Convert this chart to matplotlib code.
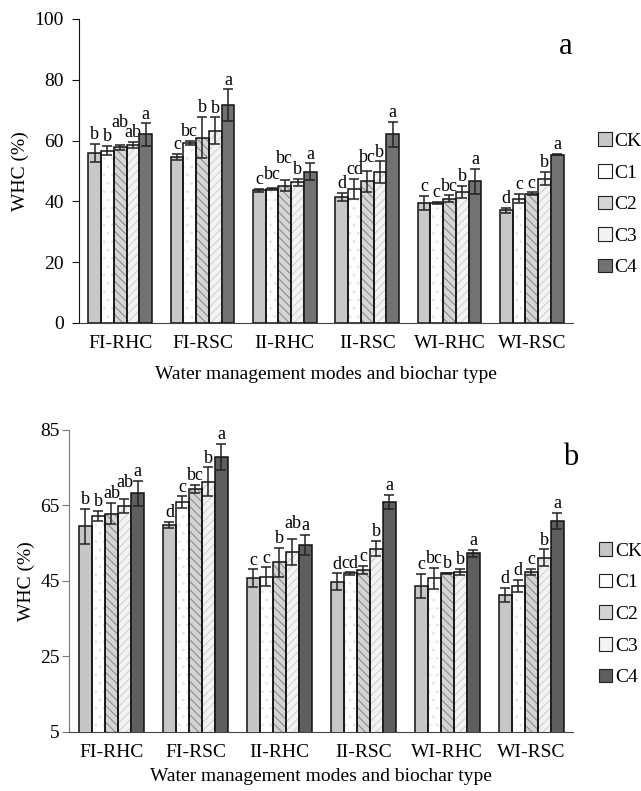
import numpy as np
import matplotlib
matplotlib.use('Agg')
import matplotlib.pyplot as plt
from matplotlib.patches import Patch

plt.rcParams['font.family'] = ['Liberation Serif', 'DejaVu Serif']

groups = ['FI-RHC', 'FI-RSC', 'II-RHC', 'II-RSC', 'WI-RHC', 'WI-RSC']
treatments = ['CK', 'C1', 'C2', 'C3', 'C4']

# panel a
a_mean = [[55.9, 54.6, 43.6, 41.4, 39.5, 37.0],
          [56.7, 59.2, 44.2, 44.2, 39.6, 40.9],
          [57.8, 61.0, 45.2, 46.6, 40.9, 42.5],
          [58.5, 63.3, 46.3, 49.7, 43.1, 47.5],
          [62.0, 71.6, 49.8, 62.0, 46.6, 55.4]]
a_err = [[3.1, 1.1, 0.6, 1.4, 2.4, 0.8],
         [1.5, 0.8, 0.3, 3.3, 0.3, 1.5],
         [0.8, 6.8, 1.8, 3.5, 1.1, 0.5],
         [1.1, 4.4, 1.1, 3.5, 2.1, 2.2],
         [3.7, 5.3, 2.7, 4.2, 4.1, 0.3]]
a_let = [['b', 'c', 'c', 'd', 'c', 'd'],
         ['b', 'bc', 'bc', 'cd', 'c', 'c'],
         ['ab', 'b', 'bc', 'bc', 'bc', 'c'],
         ['ab', 'b', 'b', 'b', 'b', 'b'],
         ['a', 'a', 'a', 'a', 'a', 'a']]

# panel b
b_mean = [[59.5, 59.8, 45.7, 44.8, 43.7, 41.3],
          [62.2, 65.9, 46.1, 47.0, 45.7, 43.7],
          [62.8, 69.4, 49.9, 47.9, 47.0, 47.4],
          [64.8, 71.3, 52.7, 53.6, 47.4, 51.2],
          [68.2, 77.9, 54.5, 66.0, 52.3, 60.9]]
b_err = [[4.6, 0.8, 2.4, 2.2, 3.2, 1.8],
         [1.3, 1.5, 2.5, 0.3, 2.7, 1.6],
         [2.8, 1.0, 3.8, 1.1, 0.2, 0.8],
         [1.9, 3.8, 3.5, 2.0, 0.8, 2.2],
         [3.3, 3.5, 2.7, 1.8, 0.9, 2.2]]
b_let = [['b', 'd', 'c', 'd', 'c', 'd'],
         ['b', 'c', 'c', 'cd', 'bc', 'd'],
         ['ab', 'bc', 'b', 'c', 'b', 'c'],
         ['ab', 'b', 'ab', 'b', 'b', 'b'],
         ['a', 'a', 'a', 'a', 'a', 'a']]

hatches = [None, '..', '\\\\\\\\', '////', None]
hcols = [None, '#e4e4e4', '#8c8c8c', '#d2d2d2', None]
plt.rcParams['hatch.linewidth'] = 0.8

fig = plt.figure(figsize=(6.41, 7.91), dpi=100)
ax1 = fig.add_axes([0.1232, 0.5917, 0.7707, 0.3843])
ax2 = fig.add_axes([0.1084, 0.0746, 0.786, 0.3818])

x = np.arange(len(groups))
w = 0.155


def draw(ax, mean, err, let, ymin, ymax, ticks, tag, tagx, faces, raise_, spcol, ypad, xlpad):
    for i in range(5):
        pos = x + (i - 2) * w
        if hatches[i]:
            ax.bar(pos, mean[i], w, color=faces[i], edgecolor=hcols[i],
                   hatch=hatches[i], linewidth=0, zorder=2)
        ax.bar(pos, mean[i], w, color=faces[i] if not hatches[i] else 'none',
               edgecolor='#111111', linewidth=1.1, zorder=3)
        ax.errorbar(pos, mean[i], yerr=err[i], fmt='none', ecolor='#222222',
                    elinewidth=1.1, capsize=3.8, capthick=1.1, zorder=4)
        for j in range(len(groups)):
            dy = raise_.get((i, j), 0)
            ax.text(pos[j], mean[i][j] + err[i][j] + 0.2 + dy, let[i][j], ha='center',
                    va='bottom', fontsize=13)
    ax.set_ylim(ymin, ymax)
    ax.set_xlim(-0.5, len(groups) - 0.5)
    ax.set_yticks(ticks)
    ax.set_xticks(x)
    ax.set_xticklabels(groups)
    ax.tick_params(axis='x', length=0, labelsize=14, pad=9)
    ax.tick_params(axis='y', labelsize=14, direction='out', length=5, pad=ypad,
                   color=spcol)
    ax.spines['top'].set_visible(False)
    ax.spines['right'].set_visible(False)
    ax.spines['left'].set_color(spcol)
    ax.spines['bottom'].set_color('#444444')
    ax.set_ylabel('WHC (%)', fontsize=14)
    ax.set_xlabel('Water management modes and biochar type', fontsize=14, labelpad=xlpad)
    ax.text(tagx, 0.91, tag, transform=ax.transAxes, fontsize=22, ha='center', va='center')
    handles = [Patch(facecolor=faces[i], edgecolor='#222222', linewidth=0.8)
               for i in range(5)]
    ax.legend(handles, treatments, loc='center left', bbox_to_anchor=(1.035, 0.39),
              frameon=False, fontsize=14, handlelength=0.7, handleheight=0.7,
              handletextpad=0.15, labelspacing=0.72, borderaxespad=0)


faces_a = ['#c8c8c8', '#ffffff', '#d6d6d6', '#f3f3f3', '#727272']
faces_b = ['#c6c6c6', '#ffffff', '#d4d4d4', '#f3f3f3', '#5e5e5e']
draw(ax1, a_mean, a_err, a_let, 0, 100, [0, 20, 40, 60, 80, 100], 'a', 0.985, faces_a,
     {(2, 0): 4.5, (2, 2): 4.0, (1, 2): 1.5, (2, 3): 1.5}, '#111111', 6, 10)
draw(ax2, b_mean, b_err, b_let, 5, 85, [5, 25, 45, 65, 85], 'b', 0.995, faces_b,
     {(3, 0): 2.0, (3, 2): 1.5}, '#777777', 2, 5)

fig.savefig('out.png', dpi=100)
